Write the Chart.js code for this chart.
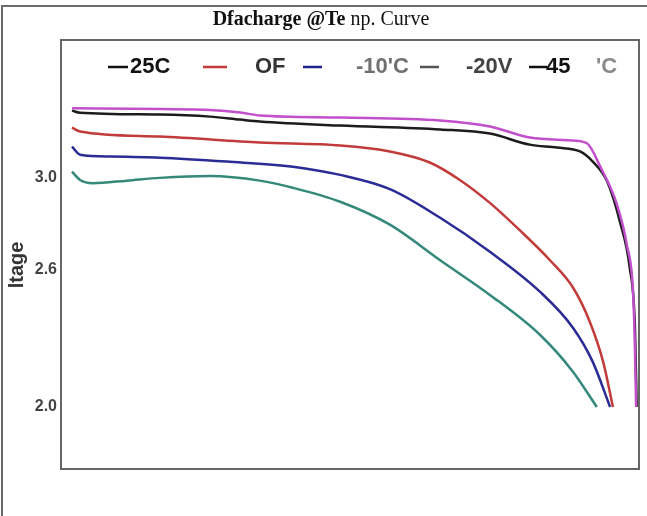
<!DOCTYPE html>
<html>
<head>
<meta charset="utf-8">
<script src="https://cdn.jsdelivr.net/npm/chart.js@4/dist/chart.umd.min.js"></script>
<style>
  html, body { margin: 0; padding: 0; background: #fff; }
  #c { display: block; }
</style>
</head>
<body>
<canvas id="c" width="647" height="516"></canvas>
<script>
// ---- data (x = relative discharge capacity, y = voltage) ----
const seriesNames = ['45C', '25C', '0C', '-10C', '-20C'];
const seriesColors = ['#c24fcc', '#1c1c1c', '#c23b3b', '#2b2b96', '#34897a'];

const curve45 = [
  {x:1.9,y:3.302},{x:17.1,y:3.299},{x:25.8,y:3.295},{x:31.0,y:3.284},{x:34.4,y:3.271},
  {x:48.3,y:3.262},{x:65.6,y:3.249},{x:74.2,y:3.223},{x:81.1,y:3.175},{x:88.6,y:3.162},
  {x:91.0,y:3.150},{x:93.3,y:3.048},{x:96.2,y:2.882},{x:97.9,y:2.707},{x:99.0,y:2.489},
  {x:99.3,y:2.25},{x:99.5,y:2.0}
];
const curve25 = [
  {x:1.9,y:3.292},{x:3.3,y:3.283},{x:17.1,y:3.275},{x:25.8,y:3.266},{x:31.0,y:3.253},
  {x:34.4,y:3.245},{x:48.3,y:3.227},{x:65.6,y:3.210},{x:74.2,y:3.192},{x:81.1,y:3.144},
  {x:85.8,y:3.131},{x:89.8,y:3.114},{x:92.0,y:3.070},{x:94.5,y:2.983},{x:96.7,y:2.808},
  {x:98.4,y:2.607},{x:99.3,y:2.345},{x:99.6,y:2.0}
];
const curve0 = [
  {x:1.9,y:3.218},{x:3.3,y:3.201},{x:17.1,y:3.179},{x:34.4,y:3.153},{x:48.3,y:3.140},
  {x:56.9,y:3.114},{x:63.8,y:3.066},{x:69.0,y:2.990},{x:74.2,y:2.890},{x:79.4,y:2.770},
  {x:84.6,y:2.640},{x:88.6,y:2.520},{x:91.5,y:2.371},{x:93.8,y:2.197},{x:95.5,y:2.0}
];
const curveM10 = [
  {x:1.9,y:3.135},{x:3.3,y:3.100},{x:8.5,y:3.092},{x:17.1,y:3.087},{x:28.7,y:3.070},
  {x:40.1,y:3.048},{x:48.3,y:3.012},{x:56.9,y:2.950},{x:65.6,y:2.825},{x:74.2,y:2.677},
  {x:82.9,y:2.502},{x:88.6,y:2.345},{x:92.0,y:2.197},{x:95.0,y:2.0}
];
const curveM20 = [
  {x:1.9,y:3.026},{x:3.3,y:2.990},{x:5.5,y:2.976},{x:11.4,y:2.987},{x:17.1,y:2.999},
  {x:25.8,y:3.007},{x:34.4,y:2.987},{x:40.1,y:2.956},{x:48.3,y:2.895},{x:56.9,y:2.795},
  {x:65.6,y:2.640},{x:74.2,y:2.489},{x:82.9,y:2.314},{x:88.6,y:2.153},{x:92.7,y:2.0}
];
const seriesData = [curve45, curve25, curve0, curveM10, curveM20];

// ---- axis tick labels ----
const yTickValues = [2.0, 2.6, 3.0];
const yTickLabels = ['2.0', '2.6', '3.0'];
const yAxisTitle = 'ltage';

// ---- title & legend text ----
const titleBold = 'Dfacharge @Te';
const titleRegular = ' np. Curve';
const legendTexts = ['25C', 'OF', "-10'C", '-20V', '45', "'C"];
const legendLineColors = ['#111111', '#c23b3b', '#22228f', '#555555', '#111111'];

// ---- decoration plugin (frames, title, legend, y title) ----
const decor = {
  id: 'decor',
  beforeDraw(chart) {
    const ctx = chart.ctx;
    ctx.save();
    ctx.fillStyle = '#fff';
    ctx.fillRect(0, 0, chart.width, chart.height);
    ctx.restore();
  },
  afterDraw(chart) {
    const ctx = chart.ctx;
    const a = chart.chartArea;
    ctx.save();
    // outer frame (top + left)
    ctx.strokeStyle = '#6a6a6a';
    ctx.lineWidth = 2;
    ctx.beginPath();
    ctx.moveTo(2, 516); ctx.lineTo(2, 6); ctx.lineTo(647, 6);
    ctx.stroke();
    // inner frame around plot
    ctx.strokeStyle = '#666';
    ctx.lineWidth = 2;
    ctx.strokeRect(a.left, a.top, a.right - a.left, a.bottom - a.top);

    // title
    ctx.textBaseline = 'middle';
    ctx.fillStyle = '#111';
    const fb = 'bold 20px "Liberation Serif", "Times New Roman", serif';
    const fr = '20px "Liberation Serif", "Times New Roman", serif';
    ctx.font = fb; const wb = ctx.measureText(titleBold).width;
    ctx.font = fr; const wr = ctx.measureText(titleRegular).width;
    let tx = 321 - (wb + wr) / 2;
    ctx.font = fb; ctx.textAlign = 'left'; ctx.fillText(titleBold, tx, 20);
    ctx.font = fr; ctx.fillText(titleRegular, tx + wb, 20);

    // legend
    const ly = 67;
    ctx.font = 'bold 22px "Liberation Sans", Arial, sans-serif';
    ctx.lineWidth = 2.5;
    const segs = [[108,128],[203,227],[303,322],[420,439],[529,547]];
    segs.forEach((s, i) => {
      ctx.strokeStyle = legendLineColors[i];
      ctx.beginPath(); ctx.moveTo(s[0], ly); ctx.lineTo(s[1], ly); ctx.stroke();
    });
    const textPos = [130, 255, 356, 466, 546, 596];
    const textCol = ['#111', '#333', '#707070', '#444', '#111', '#8a8a8a'];
    legendTexts.forEach((t, i) => {
      ctx.fillStyle = textCol[i];
      ctx.fillText(t, textPos[i], ly);
    });

    // y axis title
    ctx.translate(17, 265);
    ctx.rotate(-Math.PI / 2);
    ctx.textAlign = 'center';
    ctx.fillStyle = '#333';
    ctx.font = 'bold 20px "Liberation Sans", Arial, sans-serif';
    ctx.fillText(yAxisTitle, 0, 0);
    ctx.restore();
  }
};

new Chart(document.getElementById('c'), {
  type: 'line',
  data: {
    datasets: seriesData.map((d, i) => ({
      label: seriesNames[i],
      data: d,
      borderColor: seriesColors[i],
      borderWidth: 2.5,
      pointRadius: 0,
      fill: false,
      cubicInterpolationMode: 'monotone'
    }))
  },
  options: {
    responsive: false,
    animation: false,
    devicePixelRatio: 1,
    layout: { padding: { top: 40, bottom: 47, right: 8, left: 0 } },
    plugins: { legend: { display: false }, title: { display: false }, tooltip: { enabled: false } },
    scales: {
      x: { type: 'linear', min: 0, max: 100, display: false },
      y: {
        type: 'linear', min: 1.73, max: 3.6,
        afterFit(s) { s.width = 61; },
        afterBuildTicks(s) { s.ticks = yTickValues.map(v => ({ value: v })); },
        grid: { display: false, drawTicks: false },
        border: { display: false },
        ticks: {
          padding: 4,
          color: '#444',
          font: { family: '"Liberation Sans Narrow", "Arial Narrow", "Liberation Sans", Arial', weight: 'bold', size: 16 },
          callback: (v) => { const i = yTickValues.indexOf(v); return i >= 0 ? yTickLabels[i] : ''; }
        }
      }
    }
  },
  plugins: [decor]
});
</script>
</body>
</html>
